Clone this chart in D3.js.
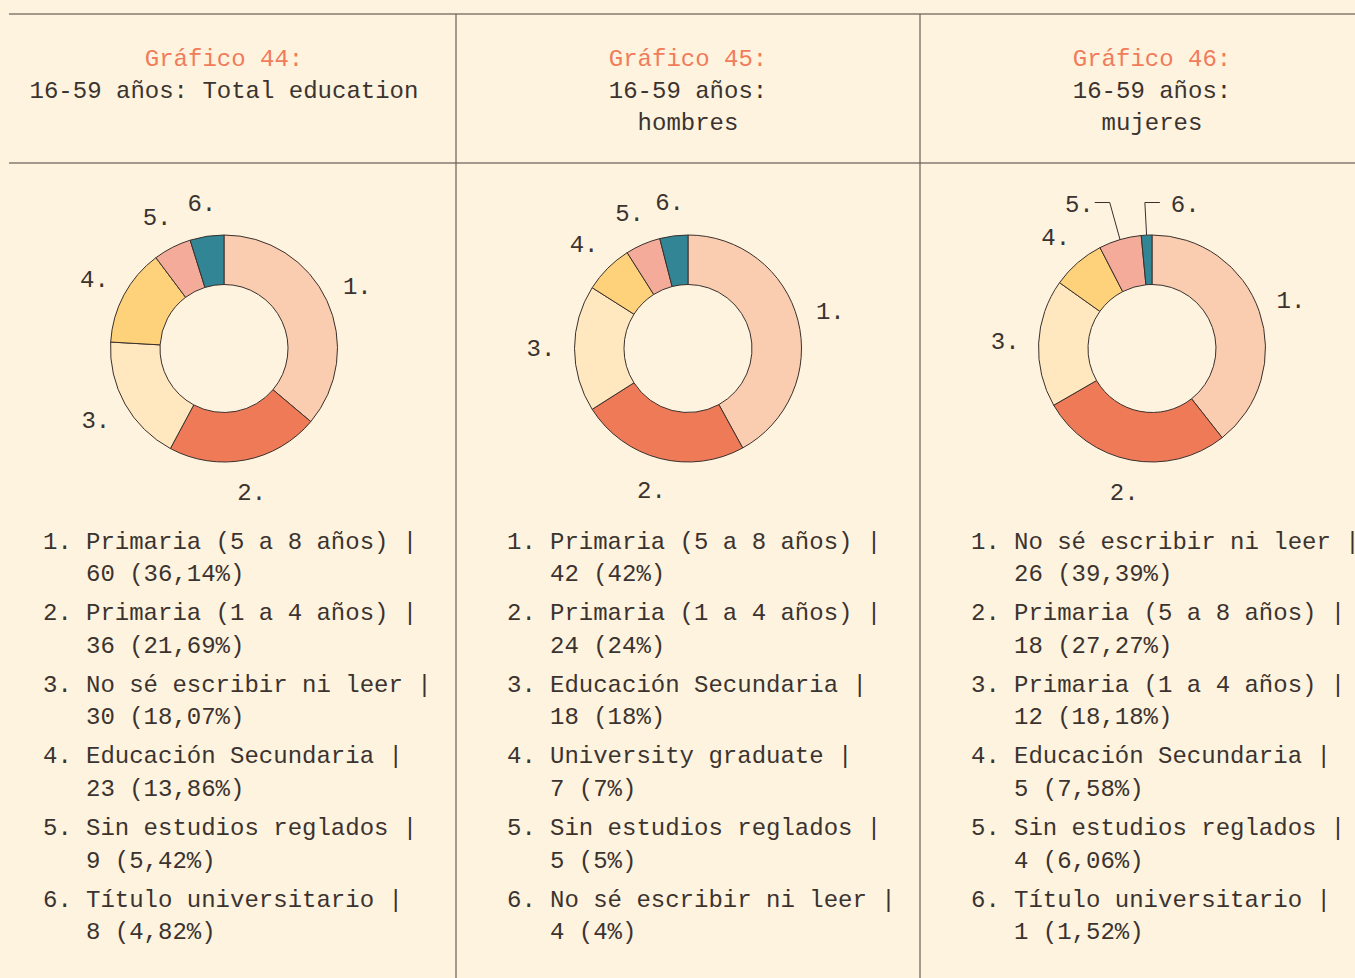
<!DOCTYPE html>
<html>
<head>
<meta charset="utf-8">
<script src="https://cdn.jsdelivr.net/npm/d3@7"></script>
<style>
  html, body { margin: 0; padding: 0; background: #fef3de; }
  svg { display: block; }
  text { font-family: "Liberation Mono", "DejaVu Sans Mono", monospace; font-size: 24px; fill: #3b3330; }
</style>
</head>
<body>
<svg id="chart" width="1355" height="978"></svg>
<script>
// Chart titles
const chartNumbers = ["Gráfico 44:", "Gráfico 45:", "Gráfico 46:"];
const subtitles = [
  ["16-59 años: Total education"],
  ["16-59 años:", "hombres"],
  ["16-59 años:", "mujeres"]
];

// Categories and counts for each chart (slice order = legend order)
const categoriesTotal = ["Primaria (5 a 8 años)", "Primaria (1 a 4 años)", "No sé escribir ni leer",
  "Educación Secundaria", "Sin estudios reglados", "Título universitario"];
const valuesTotal = [60, 36, 30, 23, 9, 8];

const categoriesMen = ["Primaria (5 a 8 años)", "Primaria (1 a 4 años)", "Educación Secundaria",
  "University graduate", "Sin estudios reglados", "No sé escribir ni leer"];
const valuesMen = [42, 24, 18, 7, 5, 4];

const categoriesWomen = ["No sé escribir ni leer", "Primaria (5 a 8 años)", "Primaria (1 a 4 años)",
  "Educación Secundaria", "Sin estudios reglados", "Título universitario"];
const valuesWomen = [26, 18, 12, 5, 4, 1];

// Slice colours by position
const sliceColors = ["#facdb0", "#ef7a58", "#ffe8c0", "#fed27a", "#f4ab9a", "#318594"];

// Small slices whose number is moved out with a leader line: [slice index, side]
const calloutsTotal = [];
const calloutsMen = [];
const calloutsWomen = [[4, -1], [5, 1]];

const charts = [
  { cats: categoriesTotal, vals: valuesTotal, callouts: calloutsTotal },
  { cats: categoriesMen, vals: valuesMen, callouts: calloutsMen },
  { cats: categoriesWomen, vals: valuesWomen, callouts: calloutsWomen }
];

const W = 1355, H = 978;
const svg = d3.select("#chart");
const lineColor = "#4a3f3a";

svg.append("rect").attr("width", W).attr("height", H).attr("fill", "#fef3de");

// Panel grid
const panelW = 464;
const firstCenter = 224;
svg.append("line").attr("x1", 9).attr("x2", W).attr("y1", 14).attr("y2", 14)
  .attr("stroke", lineColor).attr("stroke-width", 1.2);
svg.append("line").attr("x1", 9).attr("x2", W).attr("y1", 163).attr("y2", 163)
  .attr("stroke", lineColor).attr("stroke-width", 1.2);
[1, 2].forEach(i => {
  const x = firstCenter + panelW * i - panelW / 2;
  svg.append("line").attr("x1", x).attr("x2", x).attr("y1", 14).attr("y2", H)
    .attr("stroke", "#6b5e55").attr("stroke-width", 1.2);
});

const R = 113.5, r = 64, labelR = 147;
const cy = 348.5;
const arc = d3.arc().innerRadius(r).outerRadius(R);
const pie = d3.pie().sort(null).value(d => d).startAngle(0).endAngle(2 * Math.PI);
const pctFmt = d3.format(".2~f");
const pct = (v, total) => pctFmt(v / total * 100).replace(".", ",") + "%";

charts.forEach((c, i) => {
  const cx = firstCenter + panelW * i;
  const g = svg.append("g");

  // Titles
  g.append("text").attr("x", cx).attr("y", 66).attr("text-anchor", "middle")
    .style("fill", "#f07c5c").text(chartNumbers[i]);
  subtitles[i].forEach((t, j) => {
    g.append("text").attr("x", cx).attr("y", 98 + j * 32).attr("text-anchor", "middle").text(t);
  });

  // Donut
  const arcs = pie(c.vals);
  const donut = g.append("g").attr("transform", `translate(${cx},${cy})`);
  donut.selectAll("path").data(arcs).join("path")
    .attr("d", arc)
    .attr("fill", (d, k) => sliceColors[k])
    .attr("stroke", "#3a302c").attr("stroke-width", 1);

  // Slice numbers
  const calloutMap = new Map(c.callouts);
  arcs.forEach((d, k) => {
    const a = (d.startAngle + d.endAngle) / 2;
    const label = (k + 1) + ".";
    if (calloutMap.has(k)) {
      const side = calloutMap.get(k);
      const p0 = [Math.sin(a) * R, -Math.cos(a) * R];
      const elbowR = 150;
      const p1y = -146;
      const e = [Math.sin(a) * elbowR, p1y];
      const p2 = [e[0] + side * 15, p1y];
      donut.append("polyline")
        .attr("points", [p0, e, p2].map(p => p.join(",")).join(" "))
        .attr("fill", "none").attr("stroke", "#3a302c").attr("stroke-width", 1);
      donut.append("text")
        .attr("x", p2[0] + side * (side < 0 ? 1 : 11))
        .attr("y", p1y + 9)
        .attr("text-anchor", side < 0 ? "end" : "start")
        .text(label);
    } else {
      donut.append("text")
        .attr("x", Math.sin(a) * labelR)
        .attr("y", -Math.cos(a) * labelR + 7.5)
        .attr("text-anchor", "middle")
        .text(label);
    }
  });

  // Legend
  const total = d3.sum(c.vals);
  const lx = cx - 181;
  const ly = 548.5, step = 71.65, lineStep = 32.5;
  c.cats.forEach((name, k) => {
    const y = ly + k * step;
    g.append("text").attr("x", lx).attr("y", y).text((k + 1) + ".");
    g.append("text").attr("x", lx + 43).attr("y", y).text(name + " |");
    g.append("text").attr("x", lx + 43).attr("y", y + lineStep)
      .text(c.vals[k] + " (" + pct(c.vals[k], total) + ")");
  });
});
</script>
</body>
</html>
